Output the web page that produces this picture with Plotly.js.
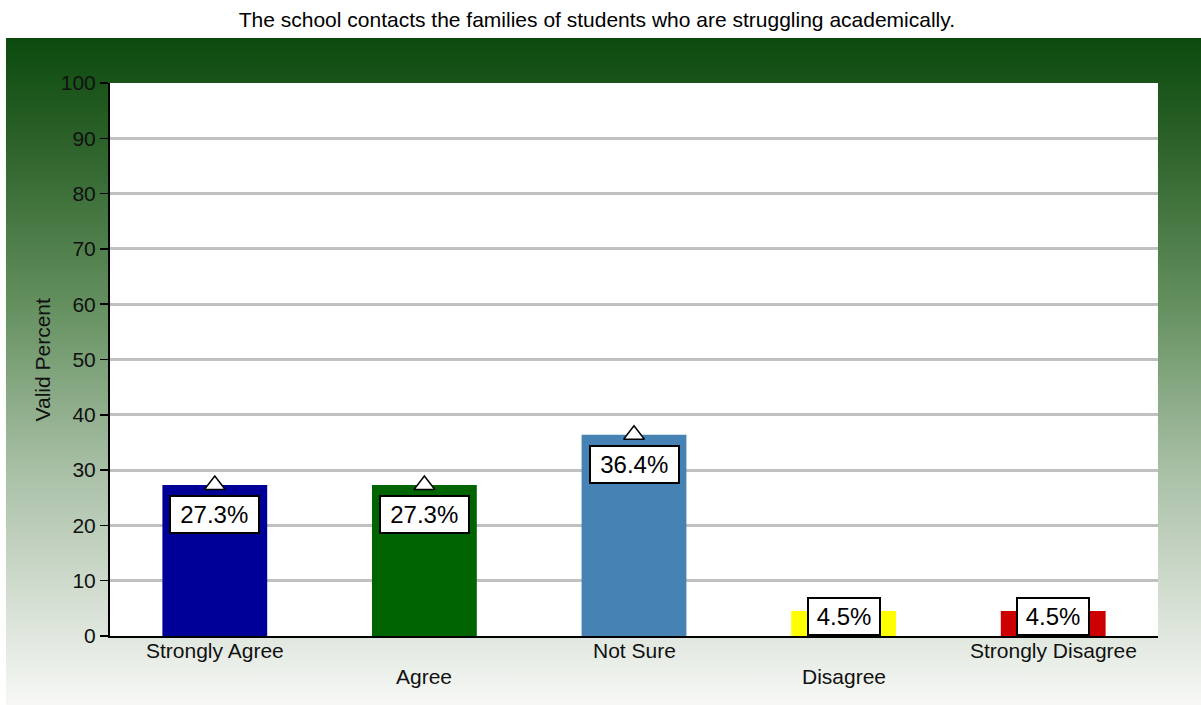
<!DOCTYPE html>
<html>
<head>
<meta charset="utf-8">
<script src="https://cdn.plot.ly/plotly-3.0.1.min.js"></script>
<style>
  html, body { margin: 0; padding: 0; background: #ffffff; }
  #bg { position: absolute; left: 6px; top: 38px; width: 1195px; height: 667px;
        background: linear-gradient(to bottom, #0b4a0e 0%, #2b6128 15%, #64905f 40%, #a9c0a6 65%, #d6e0d4 85%, #f7f8f6 100%); }
  #chart { position: absolute; left: 0; top: 0; width: 1201px; height: 705px; }
</style>
</head>
<body>
<div id="bg"></div>
<div id="chart"></div>
<script>
const categories = ["Strongly Agree", "Agree", "Not Sure", "Disagree", "Strongly Disagree"];
const values = [27.3, 27.3, 36.4, 4.5, 4.5];
const valueLabels = ["27.3%", "27.3%", "36.4%", "4.5%", "4.5%"];
const barColors = ["#000099", "#006400", "#4682B4", "#FFFF00", "#CC0000"];
const yTickVals = [0, 10, 20, 30, 40, 50, 60, 70, 80, 90, 100];
const chartTitle = "The school contacts the families of students who are struggling academically.";
const yTitle = "Valid Percent";

const FONT = "Liberation Sans, Arial, sans-serif";
const idx = categories.map((c, i) => i);
const plotH = 705 - 83 - 69;

const traces = [
  {
    type: "bar", x: idx, y: values, width: 0.5,
    marker: { color: barColors, line: { width: 0 } },
    hoverinfo: "skip", showlegend: false
  },
  {
    type: "scatter", mode: "markers", x: idx, y: values,
    marker: { symbol: "triangle-up", size: 18, color: "#ffffff", line: { color: "#000000", width: 1.5 } },
    hoverinfo: "skip", showlegend: false
  }
];

const annotations = [];
// category labels, alternating rows
categories.forEach((c, i) => {
  annotations.push({
    x: i, y: 0, xref: "x", yref: "paper", text: c, showarrow: false,
    xanchor: "center", yanchor: "top", yshift: (i % 2 === 0) ? -1 : -27,
    font: { family: FONT, size: 21, color: "#111111" }
  });
});
// value boxes
values.forEach((v, i) => {
  const small = (v / 100) * plotH < 50;
  annotations.push({
    x: i, y: small ? 0 : v, xref: "x", yref: "y", text: valueLabels[i], showarrow: false,
    xanchor: "center", yanchor: small ? "bottom" : "top", yshift: small ? 0 : -10,
    bgcolor: "#ffffff", bordercolor: "#000000", borderwidth: 2, borderpad: 2,
    height: 31, width: valueLabels[i].length * 16.5,
    font: { family: FONT, size: 24, color: "#000000" }
  });
});
// y-axis title
annotations.push({
  x: 0, y: 0.5, xref: "paper", yref: "paper", text: yTitle, showarrow: false,
  textangle: -90, xanchor: "center", yanchor: "middle", xshift: -68,
  font: { family: FONT, size: 21, color: "#111111" }
});

const layout = {
  width: 1201, height: 705,
  margin: { l: 110, r: 43, t: 83, b: 69, pad: 0 },
  paper_bgcolor: "rgba(0,0,0,0)",
  plot_bgcolor: "#ffffff",
  font: { family: FONT, size: 21, color: "#111111" },
  title: { text: chartTitle, x: 0.497, xref: "container", y: 0.972, yref: "container", xanchor: "center", yanchor: "middle",
           font: { family: FONT, size: 21, color: "#000000" } },
  xaxis: {
    range: [-0.5, 4.5], showticklabels: false, ticks: "", showgrid: false,
    showline: true, linecolor: "#000000", linewidth: 2, zeroline: false, fixedrange: true
  },
  yaxis: {
    range: [0, 100], tickvals: yTickVals, ticks: "outside", ticklen: 8, tickwidth: 1.5, tickcolor: "#000000",
    showgrid: true, gridcolor: "#c0c0c0", gridwidth: 3,
    showline: true, linecolor: "#000000", linewidth: 2, zeroline: false,
    tickfont: { family: FONT, size: 21, color: "#111111" }, fixedrange: true
  },
  annotations: annotations,
  bargap: 0.5
};

Plotly.newPlot("chart", traces, layout, { displayModeBar: false, staticPlot: true });
</script>
</body>
</html>
